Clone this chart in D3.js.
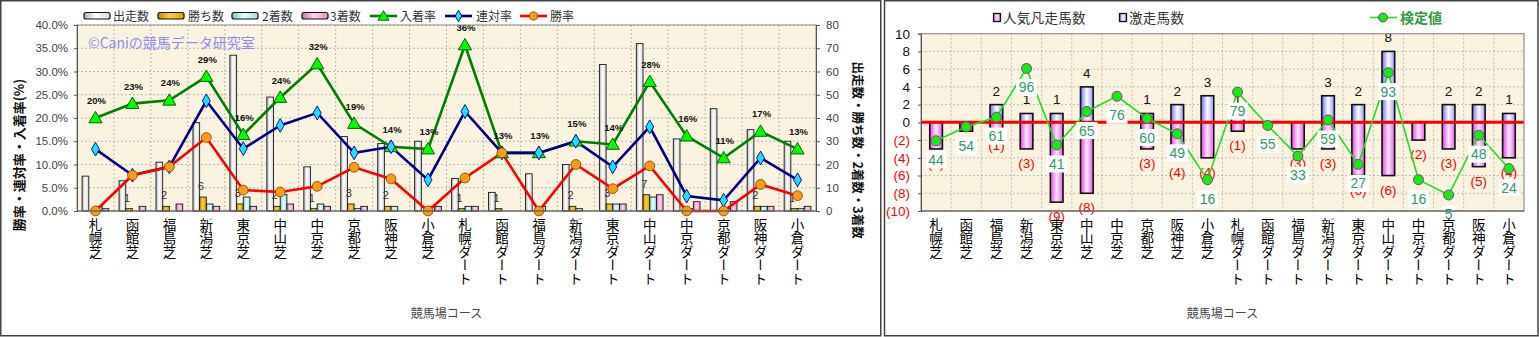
<!DOCTYPE html>
<html><head><meta charset="utf-8">
<script src="https://cdn.jsdelivr.net/npm/d3@7"></script>
<style>
body{margin:0;background:#fff;}
svg{display:block;}
text{font-family:"Liberation Sans",Arial,sans-serif;}
.jp{font-family:"Noto Sans CJK JP","Noto Sans",sans-serif;}
</style></head><body>
<svg id="c" width="1539" height="337"></svg>
<script>
// ---------------- data ----------------
const categories = ["札幌芝","函館芝","福島芝","新潟芝","東京芝","中山芝","中京芝","京都芝","阪神芝","小倉芝",
  "札幌ダート","函館ダート","福島ダート","新潟ダート","東京ダート","中山ダート","中京ダート","京都ダート","阪神ダート","小倉ダート"];
// left chart counts
const runs    = [15,13,21,38,67,49,19,32,29,30,14,8,16,20,63,72,31,44,35,30];
const wins    = [0,1,2,6,3,2,1,3,2,0,1,1,0,2,3,7,0,0,2,1];
const seconds = [2,0,0,3,6,7,3,1,2,2,2,0,2,1,3,6,1,1,2,1];
const thirds  = [1,2,3,2,2,3,2,2,0,2,2,0,0,0,3,7,4,4,2,2];
// left chart rates (%)
const winRate    = [0,7.7,9.5,15.8,4.5,4.1,5.3,9.4,6.9,0,7.1,12.5,0,10.0,4.8,9.7,0,0,5.7,3.3];
const rentaiRate = [13.3,7.7,9.5,23.7,13.4,18.4,21.1,12.5,13.8,6.7,21.4,12.5,12.5,15.0,9.5,18.1,3.2,2.3,11.4,6.7];
const placeRate  = [20.0,23.1,23.8,28.9,16.4,24.4,31.6,18.8,13.8,13.3,35.7,12.5,12.5,15.0,14.3,27.8,16.1,11.4,17.1,13.3];
const pctTicks = [0,5,10,15,20,25,30,35,40];
const cntTicks = [0,10,20,30,40,50,60,70,80];
// right chart
const popularFail = [3,1,1,3,9,8,0,3,4,4,1,0,3,3,6,6,2,3,5,4];
const surge       = [0,0,2,1,1,4,0,1,2,3,1,0,0,3,2,8,0,2,2,1];
const testValue   = [44,54,61,96,41,65,76,60,49,16,79,55,33,59,27,93,16,5,48,24];
const rightTicks  = [-10,-8,-6,-4,-2,0,2,4,6,8,10];

// ---------------- setup ----------------
const svg = d3.select("#c");
const defs = svg.append("defs");
function hgrad(id, stops){
  const g = defs.append("linearGradient").attr("id",id).attr("x1",0).attr("x2",1).attr("y1",0).attr("y2",0);
  stops.forEach(([o,c])=>g.append("stop").attr("offset",o).attr("stop-color",c));
}
hgrad("gWhite",[[0,"#b0b0b0"],[0.45,"#ffffff"],[1,"#d4d4d4"]]);
hgrad("gGold",[[0,"#c08a00"],[0.45,"#ffd030"],[1,"#d8a000"]]);
hgrad("gCyan",[[0,"#7cc4c4"],[0.45,"#e4ffff"],[1,"#a0e0e0"]]);
hgrad("gPink",[[0,"#d070a8"],[0.45,"#ffd4ec"],[1,"#e496c4"]]);
hgrad("gRPink",[[0,"#dd44dd"],[0.5,"#ffe6ff"],[1,"#e060e0"]]);
hgrad("gRBlue",[[0,"#6e6ef8"],[0.5,"#ffffff"],[1,"#9a9aff"]]);
// paper texture
const f = defs.append("filter").attr("id","paper").attr("x",0).attr("y",0).attr("width",1).attr("height",1);
f.append("feTurbulence").attr("type","fractalNoise").attr("baseFrequency","0.015").attr("numOctaves",3).attr("seed",7).attr("result","n");
f.append("feColorMatrix").attr("in","n").attr("type","matrix")
 .attr("values","0 0 0 0 0.92  0 0 0 0 0.86  0 0 0 0 0.72  1.2 0 0 0 -0.45");
f.append("feComposite").attr("in2","SourceGraphic").attr("operator","in");

// frames
svg.append("rect").attr("x",0.75).attr("y",0.75).attr("width",880).attr("height",335).attr("fill","#fff").attr("stroke","#444").attr("stroke-width",1.5);
svg.append("rect").attr("x",884.5).attr("y",0.75).attr("width",653.5).attr("height",335).attr("fill","#fff").attr("stroke","#444").attr("stroke-width",1.5);

function paper(g,x0,y0,w,h){
  g.append("rect").attr("x",x0).attr("y",y0).attr("width",w).attr("height",h).attr("fill","#faf3e0");
  g.append("rect").attr("x",x0).attr("y",y0).attr("width",w).attr("height",h).attr("fill","#fff").attr("filter","url(#paper)").attr("opacity",0.45);
}

// ================= LEFT CHART =================
const L = {x0:77, x1:816, y0:25, y1:211};
const gl = svg.append("g");
paper(gl, L.x0, L.y0, L.x1-L.x0, L.y1-L.y0);
const xL = d3.scaleBand().domain(categories).range([L.x0, L.x1]);
const bwL = xL.bandwidth();
const yPct = d3.scaleLinear().domain([0,40]).range([L.y1, L.y0]);
const yCnt = d3.scaleLinear().domain([0,80]).range([L.y1, L.y0]);
const cx = d => xL(d) + bwL/2;

// grid
gl.append("g").selectAll("line").data(pctTicks.slice(1)).join("line")
  .attr("x1",L.x0).attr("x2",L.x1).attr("y1",d=>yPct(d)).attr("y2",d=>yPct(d))
  .attr("stroke","#a8a8a8").attr("stroke-dasharray","2,2").attr("stroke-width",0.8);
gl.append("g").selectAll("line").data(categories.slice(1)).join("line")
  .attr("x1",d=>xL(d)).attr("x2",d=>xL(d)).attr("y1",L.y0).attr("y2",L.y1)
  .attr("stroke","#a8a8a8").attr("stroke-dasharray","2,2").attr("stroke-width",0.8);

// watermark
gl.append("text").attr("class","jp").attr("x",88).attr("y",48).attr("font-size",14)
  .attr("fill","#8c8cf2").text("©Caniの競馬データ研究室");

// bars
const barSeries = [
  {key:"出走数", vals:runs, fill:"url(#gWhite)"},
  {key:"勝ち数", vals:wins, fill:"url(#gGold)"},
  {key:"2着数", vals:seconds, fill:"url(#gCyan)"},
  {key:"3着数", vals:thirds, fill:"url(#gPink)"}
];
const xSub = d3.scaleBand().domain(barSeries.map(s=>s.key)).range([bwL*0.138, bwL*0.862]);
barSeries.forEach(s=>{
  gl.append("g").selectAll("rect").data(categories.map((c,i)=>({c,v:s.vals[i]}))).join("rect")
    .attr("x",d=>xL(d.c)+xSub(s.key)).attr("width",xSub.bandwidth())
    .attr("y",d=>yCnt(d.v)).attr("height",d=>yCnt(0)-yCnt(d.v))
    .attr("fill",s.fill).attr("stroke","#1a1a1a").attr("stroke-width",0.9);
});
// win count labels
gl.append("g").selectAll("text").data(categories.map((c,i)=>({c,v:wins[i]})).filter(d=>d.v>0)).join("text")
  .attr("x",d=>xL(d.c)+xSub("勝ち数")+xSub.bandwidth()/2-2).attr("y",d=>yCnt(d.v)-7)
  .attr("text-anchor","middle").attr("font-size",11).attr("fill","#333").text(d=>d.v);

// lines
const lineSeries = [
  {key:"入着率", vals:placeRate, color:"#008000", mark:"tri", mfill:"#00ff00", mstroke:"#005000"},
  {key:"連対率", vals:rentaiRate, color:"#000080", mark:"dia", mfill:"#22ddff", mstroke:"#000080"},
  {key:"勝率", vals:winRate, color:"#ff0000", mark:"cir", mfill:"#ff9a1a", mstroke:"#8a4a00"}
];
const symType = {tri:d3.symbolTriangle, dia:d3.symbolDiamond, cir:d3.symbolCircle};
const symSize = {tri:75, dia:55, cir:75};
lineSeries.forEach(s=>{
  const pts = categories.map((c,i)=>[cx(c), yPct(s.vals[i])]);
  gl.append("path").attr("d",d3.line()(pts)).attr("fill","none").attr("stroke",s.color).attr("stroke-width",2.6);
});
lineSeries.forEach(s=>{
  gl.append("g").selectAll("path").data(categories.map((c,i)=>({c,v:s.vals[i]}))).join("path")
    .attr("transform",d=>`translate(${cx(d.c)},${yPct(d.v)+(s.mark==="tri"?1:0)})`)
    .attr("d",d3.symbol().type(symType[s.mark]).size(symSize[s.mark]))
    .attr("fill",s.mfill).attr("stroke",s.mstroke).attr("stroke-width",0.9);
});
// place rate labels
gl.append("g").selectAll("text").data(categories.map((c,i)=>({c,v:placeRate[i]}))).join("text")
  .attr("x",d=>cx(d.c)+1).attr("y",d=>yPct(d.v)-14)
  .attr("text-anchor","middle").attr("font-size",9.5).attr("font-weight","bold").attr("fill","#111")
  .text(d=>Math.round(d.v)+"%");

// frame / axes
gl.append("rect").attr("x",L.x0).attr("y",L.y0).attr("width",L.x1-L.x0).attr("height",L.y1-L.y0)
  .attr("fill","none").attr("stroke","#909090").attr("stroke-width",1);
const axL = gl.append("g").attr("transform",`translate(${L.x0},0)`)
  .call(d3.axisLeft(yPct).tickValues(pctTicks).tickFormat(d=>d.toFixed(1)+"%").tickSize(3).tickPadding(6));
const axR = gl.append("g").attr("transform",`translate(${L.x1},0)`)
  .call(d3.axisRight(yCnt).tickValues(cntTicks).tickSize(4).tickPadding(6));
[axL,axR].forEach(a=>{
  a.select(".domain").attr("stroke","#555");
  a.selectAll(".tick line").attr("stroke","#555");
  a.selectAll("text").attr("font-size",11.5).attr("fill","#444").attr("font-family","Liberation Sans, Arial, sans-serif");
});
gl.append("line").attr("x1",L.x0).attr("x2",L.x1).attr("y1",L.y1).attr("y2",L.y1).attr("stroke","#555");

// category labels
gl.append("g").selectAll("text").data(categories).join("text").attr("class","jp")
  .attr("x",d=>cx(d)).attr("y",218).style("writing-mode","vertical-rl")
  .attr("font-size",13.5).attr("fill","#000").text(d=>d);
// axis titles
gl.append("text").attr("class","jp").attr("x",(L.x0+L.x1)/2).attr("y",318).attr("text-anchor","middle")
  .attr("font-size",12).attr("fill","#444").text("競馬場コース");
gl.append("text").attr("class","jp").attr("transform","translate(24,155) rotate(-90)").attr("text-anchor","middle")
  .attr("font-size",13).attr("font-weight","bold").attr("fill","#111").text("勝率・連対率・入着率(%)");
gl.append("text").attr("class","jp").attr("transform","translate(853,150) rotate(90)").attr("text-anchor","middle")
  .attr("font-size",12.5).attr("font-weight","bold").attr("fill","#111").text("出走数・勝ち数・2着数・3着数");

// legend
const legBars = [{x:84,t:113,fill:"url(#gWhite)",k:"出走数"},{x:158,t:188,fill:"url(#gGold)",k:"勝ち数"},
                 {x:232,t:262,fill:"url(#gCyan)",k:"2着数"},{x:302,t:330,fill:"url(#gPink)",k:"3着数"}];
legBars.forEach(b=>{
  gl.append("rect").attr("x",b.x).attr("y",12.5).attr("width",26).attr("height",6.5).attr("rx",2)
    .attr("fill",b.fill).attr("stroke","#111").attr("stroke-width",1.2);
  gl.append("text").attr("class","jp").attr("x",b.t).attr("y",20.5).attr("font-size",12).attr("fill","#333").text(b.k);
});
const legLines = [{x:370,t:400},{x:445,t:476},{x:520,t:550}];
lineSeries.forEach((s,i)=>{
  const p = legLines[i];
  gl.append("line").attr("x1",p.x).attr("x2",p.x+27).attr("y1",16).attr("y2",16).attr("stroke",s.color).attr("stroke-width",2.6);
  gl.append("path").attr("transform",`translate(${p.x+13.5},${16+(s.mark==="tri"?1:0)})`)
    .attr("d",d3.symbol().type(symType[s.mark]).size(symSize[s.mark]*0.7))
    .attr("fill",s.mfill).attr("stroke",s.mstroke).attr("stroke-width",0.9);
  gl.append("text").attr("class","jp").attr("x",p.t).attr("y",20.5).attr("font-size",12).attr("fill","#333").text(s.key);
});

// ================= RIGHT CHART =================
const R = {x0:921, x1:1524, y0:33.7, y1:211};
const gr = svg.append("g");
paper(gr, R.x0, R.y0, R.x1-R.x0, R.y1-R.y0);
const xR = d3.scaleBand().domain(categories).range([R.x0, R.x1]);
const bwR = xR.bandwidth();
const cxR = d => xR(d) + bwR/2;
const yR = d3.scaleLinear().domain([-10,10]).range([R.y1, R.y0]);
const yTest = d3.scaleLinear().domain([-6.5,121]).range([R.y1, R.y0]);

gr.append("g").selectAll("line").data(rightTicks.slice(1,-1)).join("line")
  .attr("x1",R.x0).attr("x2",R.x1).attr("y1",d=>yR(d)).attr("y2",d=>yR(d))
  .attr("stroke","#b0b0b0").attr("stroke-dasharray","2,2").attr("stroke-width",0.8);
gr.append("g").selectAll("line").data(categories.slice(1)).join("line")
  .attr("x1",d=>xR(d)).attr("x2",d=>xR(d)).attr("y1",R.y0).attr("y2",R.y1)
  .attr("stroke","#b0b0b0").attr("stroke-dasharray","2,2").attr("stroke-width",0.8);

const rbw = bwR*0.42;
gr.append("g").selectAll("rect").data(categories.map((c,i)=>({c,v:popularFail[i]})).filter(d=>d.v>0)).join("rect")
  .attr("x",d=>cxR(d.c)-rbw/2).attr("width",rbw).attr("y",yR(0)).attr("height",d=>yR(-d.v)-yR(0))
  .attr("fill","url(#gRPink)").attr("stroke","#111").attr("stroke-width",1.6);
gr.append("g").selectAll("rect").data(categories.map((c,i)=>({c,v:surge[i]})).filter(d=>d.v>0)).join("rect")
  .attr("x",d=>cxR(d.c)-rbw/2).attr("width",rbw).attr("y",d=>yR(d.v)).attr("height",d=>yR(0)-yR(d.v))
  .attr("fill","url(#gRBlue)").attr("stroke","#111").attr("stroke-width",1.6);
gr.append("line").attr("x1",R.x0).attr("x2",R.x1).attr("y1",yR(0)).attr("y2",yR(0)).attr("stroke","#ff0000").attr("stroke-width",3);

gr.append("g").selectAll("text").data(categories.map((c,i)=>({c,v:surge[i]})).filter(d=>d.v>0)).join("text")
  .attr("x",d=>cxR(d.c)).attr("y",d=>yR(d.v)-9).attr("text-anchor","middle").attr("font-size",13.5).attr("fill","#111").text(d=>d.v);
gr.append("g").selectAll("text").data(categories.map((c,i)=>({c,v:popularFail[i]})).filter(d=>d.v>0)).join("text")
  .attr("x",d=>cxR(d.c)).attr("y",d=>yR(-d.v)+19).attr("text-anchor","middle").attr("font-size",13.5).attr("fill","#ff0000").text(d=>"("+d.v+")");

const tpts = categories.map((c,i)=>[cxR(c), yTest(testValue[i])]);
gr.append("path").attr("d",d3.line()(tpts)).attr("fill","none").attr("stroke","#22dd22").attr("stroke-width",1.6);
gr.append("g").selectAll("circle").data(tpts).join("circle").attr("cx",d=>d[0]).attr("cy",d=>d[1]).attr("r",5)
  .attr("fill","#11ee11").attr("stroke","#993399").attr("stroke-width",1);
const tl = gr.append("g").selectAll("g").data(categories.map((c,i)=>({c,v:testValue[i]}))).join("g")
  .attr("transform",d=>`translate(${cxR(d.c)},${yTest(d.v)+19})`);
tl.append("rect").attr("x",d=>-(String(d.v).length*7.5+6)/2).attr("width",d=>String(d.v).length*7.5+6)
  .attr("y",-8.5).attr("height",17).attr("fill","#fff");
tl.append("text").attr("text-anchor","middle").attr("y",5).attr("font-size",14).attr("fill","#339966").text(d=>d.v);

gr.append("rect").attr("x",R.x0).attr("y",R.y0).attr("width",R.x1-R.x0).attr("height",R.y1-R.y0)
  .attr("fill","none").attr("stroke","#909090").attr("stroke-width",1.2);
const axRR = gr.append("g").attr("transform",`translate(${R.x0},0)`)
  .call(d3.axisLeft(yR).tickValues(rightTicks).tickFormat(d=>d<0?"("+(-d)+")":d).tickSize(3).tickPadding(8));
axRR.select(".domain").attr("stroke","#555");
axRR.selectAll(".tick line").attr("stroke","#555");
axRR.selectAll("text").attr("font-size",13.5).attr("font-family","Liberation Sans, Arial, sans-serif")
  .attr("fill",d=>d<0?"#ff0000":"#111");
gr.append("line").attr("x1",R.x0).attr("x2",R.x1).attr("y1",R.y1).attr("y2",R.y1).attr("stroke","#555");

gr.append("g").selectAll("text").data(categories).join("text").attr("class","jp")
  .attr("x",d=>cxR(d)).attr("y",218).style("writing-mode","vertical-rl")
  .attr("font-size",13.5).attr("fill","#000").text(d=>d);
gr.append("text").attr("class","jp").attr("x",(R.x0+R.x1)/2).attr("y",318).attr("text-anchor","middle")
  .attr("font-size",12).attr("fill","#444").text("競馬場コース");

// legend
gr.append("rect").attr("x",993.5).attr("y",13.5).attr("width",7).attr("height",8).attr("fill","url(#gRPink)").attr("stroke","#111").attr("stroke-width",1.3);
gr.append("text").attr("class","jp").attr("x",1003).attr("y",23).attr("font-size",13.5).attr("letter-spacing",0.3).attr("fill","#333").text("人気凡走馬数");
gr.append("rect").attr("x",1119.5).attr("y",13.5).attr("width",7).attr("height",8).attr("fill","url(#gRBlue)").attr("stroke","#111").attr("stroke-width",1.3);
gr.append("text").attr("class","jp").attr("x",1129).attr("y",23).attr("font-size",13.5).attr("letter-spacing",0.3).attr("fill","#333").text("激走馬数");
gr.append("line").attr("x1",1370).attr("x2",1397).attr("y1",17.5).attr("y2",17.5).attr("stroke","#22dd22").attr("stroke-width",1.6);
gr.append("circle").attr("cx",1383).attr("cy",17.5).attr("r",4.5).attr("fill","#11ee11").attr("stroke","#993399");
gr.append("text").attr("class","jp").attr("x",1400).attr("y",23).attr("font-size",14).attr("font-weight","bold").attr("fill","#339944").text("検定値");
</script>
</body></html>
